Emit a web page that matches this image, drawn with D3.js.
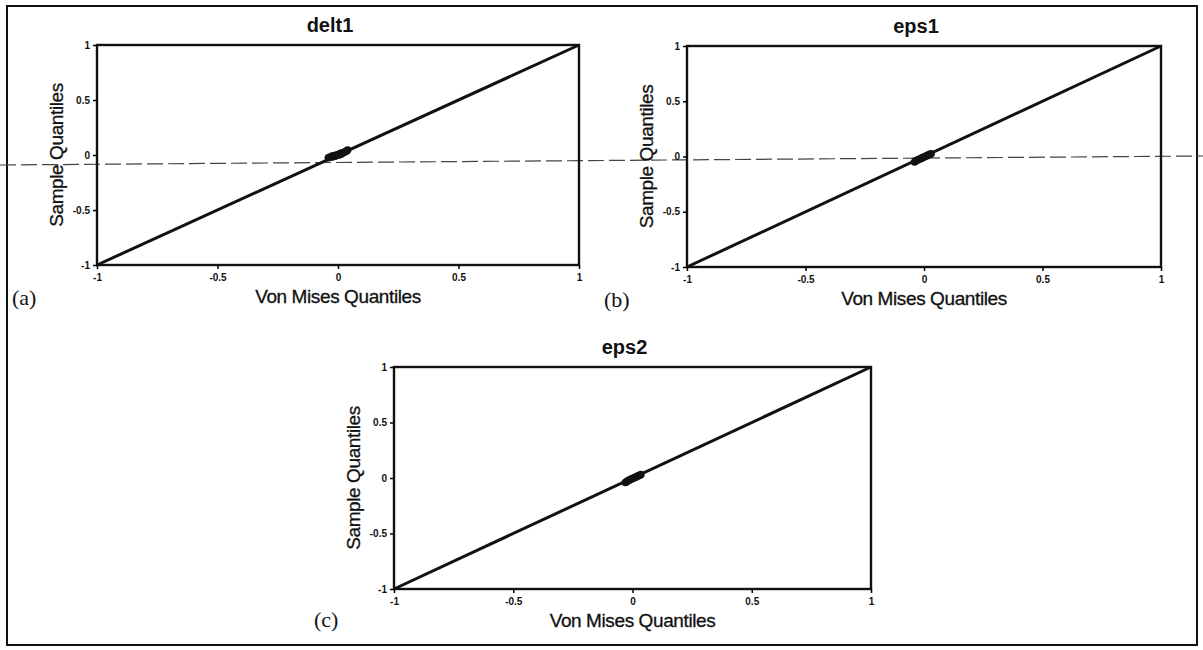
<!DOCTYPE html>
<html>
<head>
<meta charset="utf-8">
<script src="https://cdn.jsdelivr.net/npm/d3@7"></script>
<style>
  body { margin: 0; background: #fff; }
  svg { display: block; }
  .tick text { font-family: "Liberation Sans", Arial, sans-serif; font-weight: bold; font-size: 10px; fill: #111; }
</style>
</head>
<body>
<svg width="1203" height="650"></svg>
<script>
// Data
var titles = ["delt1", "eps1", "eps2"];
var letters = ["(a)", "(b)", "(c)"];
var xTicks = [-1, -0.5, 0, 0.5, 1];
var yTicks = [-1, -0.5, 0, 0.5, 1];
var refLine = [-1, 1];

// von mises quantiles / sample quantiles (clustered around 0)
var delt1X = [-0.04, -0.035, -0.03, -0.025, -0.02, -0.015, -0.01, -0.005, 0, 0.005, 0.01, 0.015, 0.02, 0.025, 0.03, 0.035, 0.04];
var delt1Y = [-0.025, -0.02, -0.02, -0.01, -0.015, -0.005, -0.01, 0.0, 0.005, 0.0, 0.015, 0.01, 0.02, 0.025, 0.03, 0.035, 0.045];
var eps1X = [-0.04, -0.035, -0.03, -0.025, -0.02, -0.015, -0.01, -0.005, 0, 0.005, 0.01, 0.015, 0.02, 0.025, 0.03];
var eps1Y = [-0.05, -0.04, -0.035, -0.03, -0.025, -0.02, -0.015, -0.01, -0.005, 0.0, 0.005, 0.01, 0.015, 0.02, 0.025];
var eps2X = [-0.03, -0.025, -0.02, -0.015, -0.01, -0.005, 0, 0.005, 0.01, 0.015, 0.02, 0.025, 0.03, 0.035];
var eps2Y = [-0.04, -0.035, -0.025, -0.02, -0.015, -0.01, -0.005, 0.0, 0.005, 0.01, 0.015, 0.02, 0.025, 0.03];

var pointsX = [delt1X, eps1X, eps2X];
var pointsY = [delt1Y, eps1Y, eps2Y];

// panel boxes on the page
var boxes = [
  {left: 97, top: 45, right: 579, bottom: 265, lx: 12, ly: 305},
  {left: 687, top: 46, right: 1161, bottom: 267, lx: 604, ly: 307},
  {left: 394, top: 367, right: 871, bottom: 589, lx: 314, ly: 627}
];

var svg = d3.select("svg");

// outer frame of the figure
svg.append("rect")
  .attr("x", 7).attr("y", 6)
  .attr("width", 1190).attr("height", 639)
  .attr("fill", "none")
  .attr("stroke", "#111")
  .attr("stroke-width", 2);

// fold line of the scanned page
svg.append("line")
  .attr("x1", 0).attr("y1", 165)
  .attr("x2", 1203).attr("y2", 156)
  .attr("stroke", "#444")
  .attr("stroke-width", 1.2)
  .attr("stroke-dasharray", "16,5");

boxes.forEach(function(b, i) {
  var x = d3.scaleLinear().domain([-1, 1]).range([b.left, b.right]);
  var y = d3.scaleLinear().domain([-1, 1]).range([b.bottom, b.top]);
  var g = svg.append("g");

  g.append("rect")
    .attr("x", b.left).attr("y", b.top)
    .attr("width", b.right - b.left).attr("height", b.bottom - b.top)
    .attr("fill", "none")
    .attr("stroke", "#111")
    .attr("stroke-width", 2.4);

  var fmt = function(d) { return d == 0 ? "0" : String(d); };

  g.append("g")
    .attr("transform", "translate(0," + b.bottom + ")")
    .call(d3.axisBottom(x).tickValues(xTicks).tickSize(4).tickPadding(5).tickFormat(fmt))
    .call(function(a) { a.select(".domain").remove(); a.selectAll("line").attr("stroke-width", 1.5); });

  g.append("g")
    .attr("transform", "translate(" + b.left + ",0)")
    .call(d3.axisLeft(y).tickValues(yTicks).tickSize(4).tickPadding(3).tickFormat(fmt))
    .call(function(a) { a.select(".domain").remove(); a.selectAll("line").attr("stroke-width", 1.5); });

  // reference line
  g.append("line")
    .attr("x1", x(refLine[0])).attr("y1", y(refLine[0]))
    .attr("x2", x(refLine[1])).attr("y2", y(refLine[1]))
    .attr("stroke", "#111")
    .attr("stroke-width", 3);

  // quantile points
  g.selectAll("circle")
    .data(d3.range(pointsX[i].length))
    .enter()
    .append("circle")
      .attr("cx", function(k) { return x(pointsX[i][k]); })
      .attr("cy", function(k) { return y(pointsY[i][k]); })
      .attr("r", 3.8)
      .attr("fill", "#111");

  var cx = (b.left + b.right) / 2;
  g.append("text")
    .attr("x", cx - 8).attr("y", b.top - 13)
    .attr("text-anchor", "middle")
    .style("font-family", "'Liberation Sans', Arial, sans-serif")
    .style("font-weight", "bold")
    .style("font-size", "20px")
    .style("fill", "#111")
    .text(titles[i]);

  g.append("text")
    .attr("x", cx).attr("y", b.bottom + 38)
    .attr("text-anchor", "middle")
    .style("font-family", "'Liberation Sans', Arial, sans-serif")
    .style("font-size", "19px")
    .style("letter-spacing", "-0.4px")
    .style("fill", "#111")
    .style("stroke", "#111").style("stroke-width", 0.3)
    .text("Von Mises Quantiles");

  g.append("text")
    .attr("transform", "translate(" + (b.left - 34) + "," + ((b.top + b.bottom) / 2) + ") rotate(-90)")
    .attr("text-anchor", "middle")
    .style("font-family", "'Liberation Sans', Arial, sans-serif")
    .style("font-size", "19px")
    .style("letter-spacing", "-0.4px")
    .style("fill", "#111")
    .style("stroke", "#111").style("stroke-width", 0.3)
    .text("Sample Quantiles");

  g.append("text")
    .attr("x", b.lx).attr("y", b.ly)
    .style("font-family", "'Liberation Serif', 'Times New Roman', serif")
    .style("font-size", "22px")
    .style("fill", "#111")
    .text(letters[i]);
});
</script>
</body>
</html>
